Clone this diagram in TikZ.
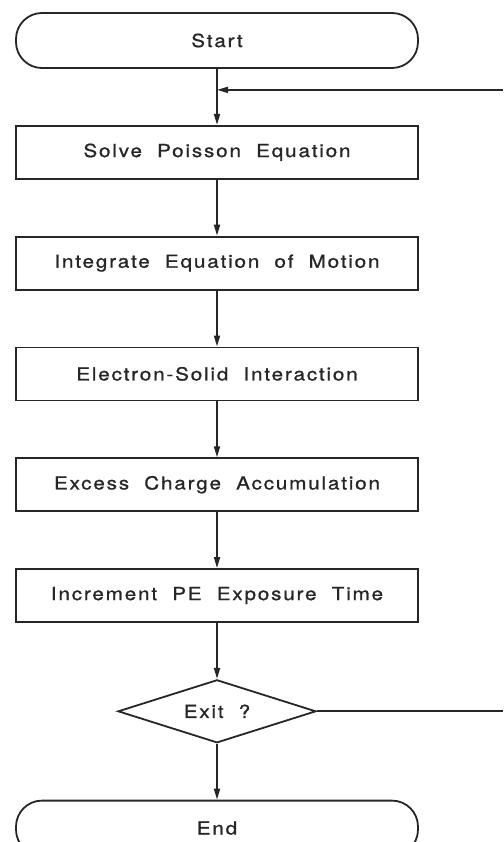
\documentclass[tikz,border=0pt]{standalone}
\usepackage{fontspec}
\newfontfamily\flowfont{TeX Gyre Heros}[LetterSpace=10, FakeStretch=1.15, FakeBold=1, WordSpace=2]
\usetikzlibrary{arrows.meta, positioning, shapes.geometric}
\definecolor{ink}{HTML}{262626}

\begin{document}
\begin{tikzpicture}[x=1pt, y=-1pt,
    every node/.style={font=\flowfont\fontsize{18}{21}\selectfont, text=ink},
    terminal/.style={draw=ink, line width=1.8pt, rounded corners=26pt,
      minimum width=402pt, minimum height=55pt, inner sep=0pt},
    stepbox/.style={draw=ink, line width=1.8pt,
      minimum width=402pt, minimum height=53pt, inner sep=0pt},
    decision/.style={draw=ink, line width=1.8pt, diamond, aspect=3,
      minimum width=198pt, minimum height=63pt, inner sep=0pt},
    flow/.style={draw=ink, line width=1.8pt, -{Triangle[length=11pt, width=6pt]}}]
      \useasboundingbox (0,0) rectangle (503,842);
      \clip (0,0) rectangle (503,842);
      \coordinate (rim) at (503,0);

      % Ablauf
      \node[terminal] (start) at (217,40.5) {Start};
      \node[stepbox, below=56pt of start] (solve) {Solve Poisson Equation};
      \node[stepbox, below=56pt of solve] (motion) {Integrate Equation of Motion};
      \node[stepbox, below=56pt of motion] (interact) {Electron-Solid Interaction};
      \node[stepbox, below=56pt of interact] (charge) {Excess Charge Accumulation};
      \node[stepbox, below=56pt of charge] (expose) {Increment PE Exposure Time};
      \node[decision, below=56pt of expose] (exit) {Exit ?};
      \node[terminal, below=56pt of exit] (stop) {End};

      % Pfeile
      \draw[flow] (start) -- (solve);
      \draw[flow] (solve) -- (motion);
      \draw[flow] (motion) -- (interact);
      \draw[flow] (interact) -- (charge);
      \draw[flow] (charge) -- (expose);
      \draw[flow] (expose) -- (exit);
      \draw[flow] (exit) -- (stop);

      % Rueckfuehrung
      \coordinate (join) at ([yshift=-21pt]start.south);
      \draw[flow] (join -| rim) -- (join);
      \draw[draw=ink, line width=1.8pt] (exit.east) -- (exit.east -| rim);
    \end{tikzpicture}
\end{document}
